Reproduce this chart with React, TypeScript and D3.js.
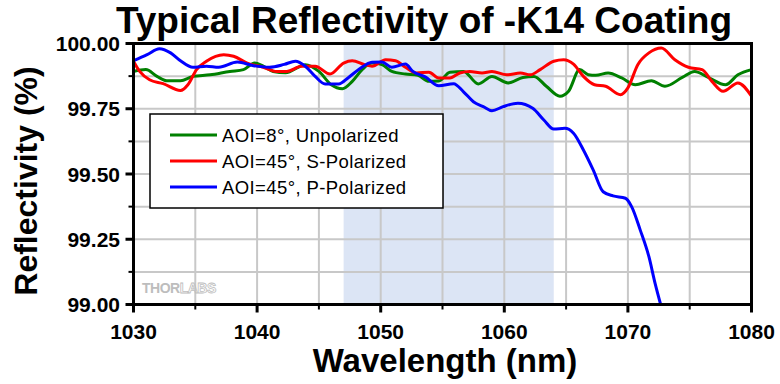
import React from "react";
import * as d3 from "d3";

const greenWl = [1030, 1031, 1031.9, 1032.7, 1033.8, 1034.8, 1036.2, 1037.8, 1038.9, 1039.8, 1040.5, 1041.3, 1042.3, 1043.9, 1045.0, 1046.0, 1046.9, 1047.7, 1048.5, 1049.3, 1050.1, 1050.9, 1052.0, 1053.0, 1053.9, 1054.7, 1055.6, 1056.7, 1057.9, 1059.0, 1060.3, 1061.5, 1062.4, 1063.4, 1064.5, 1065.2, 1066.1, 1066.8, 1067.4, 1068.4, 1069.5, 1070.6, 1071.9, 1073.0, 1074.4, 1075.4, 1076.5, 1077.9, 1078.9, 1080];
const greenVal = [99.893, 99.9, 99.874, 99.857, 99.857, 99.874, 99.88, 99.893, 99.9, 99.925, 99.913, 99.893, 99.888, 99.919, 99.893, 99.842, 99.827, 99.855, 99.9, 99.925, 99.919, 99.893, 99.883, 99.878, 99.855, 99.856, 99.89, 99.893, 99.845, 99.874, 99.849, 99.87, 99.874, 99.836, 99.798, 99.817, 99.9, 99.88, 99.878, 99.887, 99.868, 99.842, 99.857, 99.836, 99.87, 99.893, 99.87, 99.842, 99.88, 99.9];

const redWl = [1030, 1030.5, 1031.3, 1032.4, 1033.8, 1034.4, 1035.1, 1035.9, 1037.3, 1038.1, 1039.2, 1040.5, 1041.6, 1042.4, 1043.6, 1044.7, 1045.9, 1047.0, 1047.7, 1048.7, 1049.3, 1050.4, 1051.2, 1052.0, 1052.9, 1053.9, 1054.7, 1055.6, 1056.4, 1057.2, 1058.2, 1059.0, 1060.2, 1061.3, 1062.1, 1062.9, 1064.0, 1064.8, 1065.6, 1066.4, 1067.3, 1068.2, 1069.4, 1070.0, 1070.8, 1071.7, 1072.7, 1073.8, 1074.9, 1076.0, 1076.8, 1077.7, 1078.9, 1080];
const redVal = [99.932, 99.893, 99.861, 99.846, 99.82, 99.842, 99.9, 99.932, 99.957, 99.951, 99.925, 99.909, 99.893, 99.893, 99.913, 99.913, 99.883, 99.925, 99.934, 99.919, 99.913, 99.938, 99.934, 99.909, 99.887, 99.89, 99.868, 99.868, 99.887, 99.893, 99.887, 99.893, 99.88, 99.887, 99.88, 99.9, 99.932, 99.938, 99.921, 99.874, 99.842, 99.836, 99.804, 99.83, 99.919, 99.964, 99.983, 99.938, 99.909, 99.9, 99.855, 99.817, 99.849, 99.798];

const blueWl = [1030, 1031.1, 1032.1, 1033.0, 1033.8, 1034.8, 1035.9, 1036.9, 1038.4, 1039.7, 1041.0, 1042.2, 1043.1, 1043.9, 1044.7, 1045.5, 1046.6, 1047.4, 1048.3, 1049.3, 1050.1, 1050.9, 1052.0, 1052.6, 1053.6, 1054.7, 1055.9, 1056.7, 1057.5, 1058.3, 1059.0, 1059.9, 1061.1, 1062.3, 1063.2, 1064.0, 1064.9, 1065.6, 1066.4, 1067.2, 1068.0, 1068.8, 1069.8, 1070.3, 1071.0, 1071.7, 1072.2, 1072.65];
const blueVal = [99.934, 99.957, 99.98, 99.964, 99.934, 99.909, 99.913, 99.909, 99.929, 99.915, 99.909, 99.92, 99.932, 99.913, 99.874, 99.845, 99.845, 99.87, 99.903, 99.928, 99.929, 99.909, 99.921, 99.893, 99.872, 99.838, 99.846, 99.815, 99.777, 99.758, 99.742, 99.758, 99.771, 99.752, 99.707, 99.672, 99.675, 99.656, 99.592, 99.515, 99.432, 99.416, 99.407, 99.375, 99.285, 99.183, 99.081, 99.0];

const seriesNames = ["AOI=8°, Unpolarized", "AOI=45°, S-Polarized", "AOI=45°, P-Polarized"];
const seriesColors = ["#008000", "#ff0000", "#0000ff"];
const xMajorTicks = [1030, 1040, 1050, 1060, 1070, 1080];
const xMinorTicks = [1035, 1045, 1055, 1065, 1075];
const yMajorTicks = [99.0, 99.25, 99.5, 99.75, 100.0];
const yMinorTicks = [99.125, 99.375, 99.625, 99.875];
const band = [1047, 1064];

const W = 780, H = 384;
const L = 133.5, R = 751.5, T = 43.5, B = 304.5;
const FONT = "Arial, 'Liberation Sans', sans-serif";

export default function App() {
  const x = d3.scaleLinear().domain([1030, 1080]).range([L, R]);
  const y = d3.scaleLinear().domain([99, 100]).range([B, T]);
  const series = [
    greenWl.map((w, i) => [w, greenVal[i]]),
    redWl.map((w, i) => [w, redVal[i]]),
    blueWl.map((w, i) => [w, blueVal[i]]),
  ];
  const line = d3
    .line<number[]>()
    .x((d) => x(d[0]))
    .y((d) => y(d[1]))
    .curve(d3.curveMonotoneX);
  const grid = "#c8c8c8";
  return (
    <svg width={W} height={H} style={{ position: "absolute", left: 0, top: 0 }} fontFamily={FONT}>
      <rect x={0} y={0} width={W} height={H} fill="#fff" />
      <defs>
        <clipPath id="plot">
          <rect x={L} y={T} width={R - L} height={B - T} />
        </clipPath>
      </defs>
      <rect x={x(band[0])} y={T} width={x(band[1]) - x(band[0])} height={B - T} fill="#dce5f5" />
      {[...xMajorTicks, ...xMinorTicks].map((t) => (
        <line key={"gx" + t} x1={x(t)} x2={x(t)} y1={T} y2={B} stroke={grid} strokeWidth={2} />
      ))}
      {[...yMajorTicks, ...yMinorTicks].map((t) => (
        <line key={"gy" + t} x1={L} x2={R} y1={y(t)} y2={y(t)} stroke={grid} strokeWidth={2} />
      ))}
      <text x={142} y={293} fontSize={14} fontWeight="bold" fill="#bdbdbd" letterSpacing={-0.5}>
        THOR
        <tspan fill="none" stroke="#bdbdbd" strokeWidth={0.8}>LABS</tspan>
      </text>
      <g clipPath="url(#plot)">
        {series.map((s, i) => (
          <path key={i} d={line(s as any) || ""} fill="none" stroke={seriesColors[i]} strokeWidth={3} strokeLinejoin="round" />
        ))}
      </g>
      <rect x={L} y={T} width={R - L} height={B - T} fill="none" stroke="#000" strokeWidth={3} />
      {xMajorTicks.map((t) => (
        <g key={"xt" + t}>
          <line x1={x(t)} x2={x(t)} y1={B} y2={B + 8} stroke="#000" strokeWidth={3} />
          <text x={x(t)} y={339} fontSize={21} fontWeight="bold" textAnchor="middle">{t}</text>
        </g>
      ))}
      {xMinorTicks.map((t) => (
        <line key={"xm" + t} x1={x(t)} x2={x(t)} y1={B} y2={B + 5} stroke="#000" strokeWidth={2} />
      ))}
      {yMajorTicks.map((t) => (
        <g key={"yt" + t}>
          <line x1={L - 8} x2={L} y1={y(t)} y2={y(t)} stroke="#000" strokeWidth={3} />
          <text x={120} y={y(t) + 7.5} fontSize={21} fontWeight="bold" textAnchor="end">{t.toFixed(2)}</text>
        </g>
      ))}
      {yMinorTicks.map((t) => (
        <line key={"ym" + t} x1={L - 5} x2={L} y1={y(t)} y2={y(t)} stroke="#000" strokeWidth={2} />
      ))}
      <text x={424} y={33} fontSize={37} fontWeight="bold" textAnchor="middle">Typical Reflectivity of -K14 Coating</text>
      <text x={445} y={372} fontSize={33} fontWeight="bold" textAnchor="middle">Wavelength (nm)</text>
      <text transform={`translate(37,181) rotate(-90)`} fontSize={32} fontWeight="bold" textAnchor="middle">Reflectivity (%)</text>
      <rect x={150} y={114} width={293} height={94} fill="#fff" stroke="#000" strokeWidth={1.5} />
      {seriesNames.map((n, i) => (
        <g key={n}>
          <line x1={170} x2={217} y1={135 + i * 26} y2={135 + i * 26} stroke={seriesColors[i]} strokeWidth={3} />
          <text x={222} y={135 + i * 26 + 6.5} fontSize={18.5} letterSpacing={0.4}>{n}</text>
        </g>
      ))}
    </svg>
  );
}
